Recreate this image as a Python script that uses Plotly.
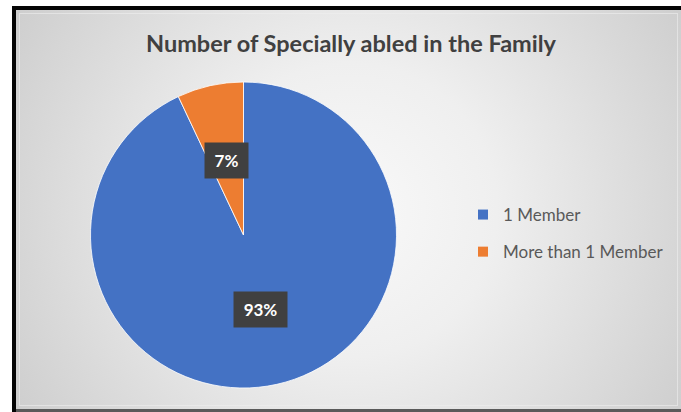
import base64
import math
import plotly.graph_objects as go

# Chart data
categories = ["1 Member", "More than 1 Member"]
values = [93, 7]
colors = ["#4472C4", "#ED7D31"]
title_text = "Number of Specially abled in the Family"

W, H = 681, 412

# Pie placement in pixels (centre and radius)
cx_px, cy_px, r_px = 243.5, 235.0, 153.0

# Panel background: soft radial gradient inside the dark frame
bg_x0, bg_y0 = 16, 10
bg_w, bg_h = W - bg_x0, 409 - bg_y0
svg = f"""<svg xmlns='http://www.w3.org/2000/svg' width='{bg_w}' height='{bg_h}' viewBox='0 0 {bg_w} {bg_h}' preserveAspectRatio='none'>
<defs><radialGradient id='g' gradientUnits='userSpaceOnUse' cx='{350 - bg_x0}' cy='{210 - bg_y0}' r='420'>
<stop offset='0' stop-color='#f9f9f9'/><stop offset='0.35' stop-color='#efefef'/>
<stop offset='0.7' stop-color='#dbdbdb'/><stop offset='1' stop-color='#cacaca'/></radialGradient></defs>
<rect x='0' y='0' width='{bg_w}' height='{bg_h}' fill='url(#g)'/>
<rect x='3.5' y='3.5' width='{bg_w - 7}' height='{bg_h - 7}' fill='none' stroke='#eeeeee' stroke-opacity='0.6' stroke-width='1'/>
</svg>"""
bg_uri = "data:image/svg+xml;base64," + base64.b64encode(svg.encode()).decode()

fig = go.Figure()

fig.add_trace(go.Pie(
    labels=categories,
    values=values,
    sort=False,
    direction="clockwise",
    rotation=0,
    marker=dict(colors=colors, line=dict(color="#ffffff", width=0.8)),
    textinfo="none",
    hoverinfo="label+percent",
    showlegend=False,
    domain=dict(
        x=[(cx_px - r_px) / W, (cx_px + r_px) / W],
        y=[1 - (cy_px + r_px) / H, 1 - (cy_px - r_px) / H],
    ),
))

# Legend entries (square swatches), one group per category for spacing
for i, (name, col) in enumerate(zip(categories, colors)):
    fig.add_trace(go.Scatter(
        x=[None], y=[None], mode="markers", name=name,
        marker=dict(symbol="square", size=10, color=col),
        legendgroup=f"g{i}", showlegend=True, hoverinfo="skip",
    ))

# Value labels in dark boxes at mid-radius of each slice
total = sum(values)
annotations = []
start = 0.0
for v in values:
    frac = v / total
    mid = (start + frac / 2) * 2 * math.pi  # clockwise from 12 o'clock
    start += frac
    lx = cx_px + 0.5 * r_px * math.sin(mid)
    ly = cy_px - 0.5 * r_px * math.cos(mid)
    label = f"{round(v / total * 100)}%"
    annotations.append(dict(
        x=lx / W, y=1 - ly / H, xref="paper", yref="paper",
        text=f"<b>{label}</b>", showarrow=False,
        font=dict(family="Lato", size=17, color="#ffffff"),
        bgcolor="#404040", borderpad=7, width=10 * len(label) + 9,
        xanchor="center", yanchor="middle",
    ))

shapes = [
    # frame: dark top and left edges, grey bottom edge
    dict(type="rect", xref="paper", yref="paper", x0=12 / W, x1=1, y0=1 - 10 / H, y1=1 - 6 / H,
         fillcolor="#050505", line=dict(width=0)),
    dict(type="rect", xref="paper", yref="paper", x0=12 / W, x1=16 / W, y0=0, y1=1 - 6 / H,
         fillcolor="#050505", line=dict(width=0)),
    dict(type="rect", xref="paper", yref="paper", x0=16 / W, x1=1, y0=0, y1=3 / H,
         fillcolor="#5a5a5a", line=dict(width=0)),
]

fig.update_layout(
    width=W, height=H,
    margin=dict(l=0, r=0, t=0, b=0),
    paper_bgcolor="#ffffff",
    plot_bgcolor="rgba(0,0,0,0)",
    xaxis=dict(visible=False), yaxis=dict(visible=False),
    title=dict(
        text=f"<b>{title_text}</b>", x=351 / W, xanchor="center",
        y=1 - 44 / H, yanchor="middle",
        font=dict(family="Lato", size=23.5, color="#404040"),
    ),
    legend=dict(
        x=463 / W, xanchor="left", y=1 - 197 / H, yanchor="top",
        bgcolor="rgba(0,0,0,0)", traceorder="grouped", tracegroupgap=12,
        font=dict(family="Lato", size=17, color="#595959"),
    ),
    images=[dict(
        source=bg_uri, xref="paper", yref="paper",
        x=bg_x0 / W, y=1 - bg_y0 / H, sizex=bg_w / W, sizey=bg_h / H,
        xanchor="left", yanchor="top", sizing="stretch", layer="below",
    )],
    shapes=shapes,
    annotations=annotations,
)

fig.write_html("out.html")
